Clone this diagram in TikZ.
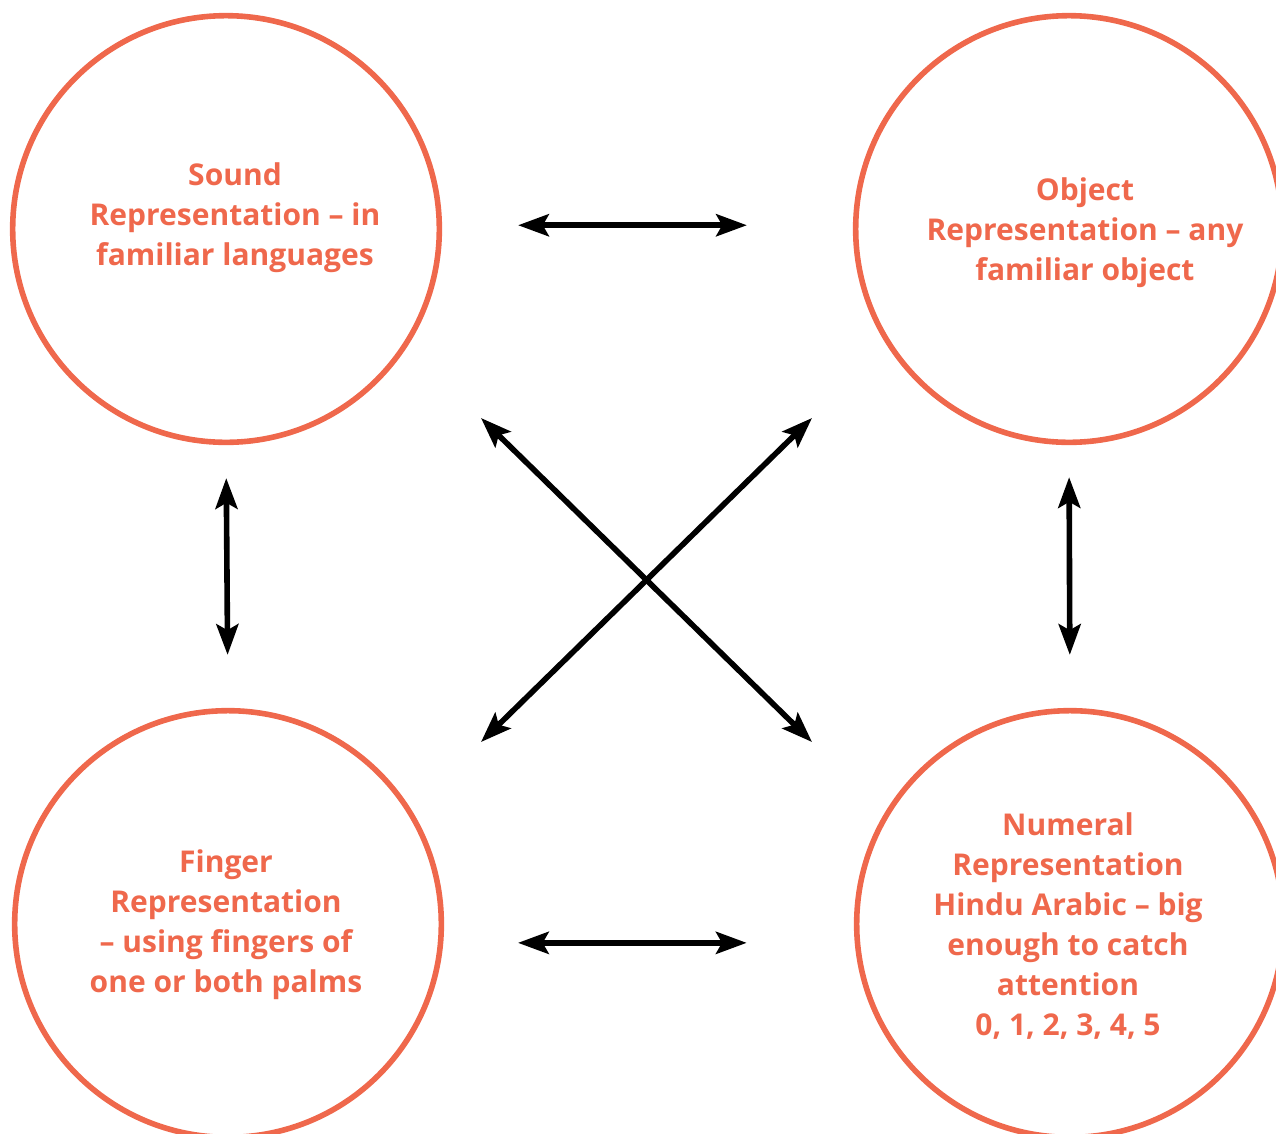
\documentclass[tikz,border=0pt]{standalone}
\usepackage{fontspec}
\setmainfont{Open Sans}
\usetikzlibrary{arrows.meta}
\definecolor{rep}{RGB}{239,104,76}

\begin{document}
\begin{tikzpicture}[x=0.75pt, y=-0.75pt,
    repcircle/.style={circle, draw=rep, line width=4.2pt, minimum size=320pt},
    reptext/.style={text=rep, align=center, font=\fontsize{22.5}{30}\selectfont\bfseries},
    link/.style={{Stealth[length=23pt, width=16.5pt, inset=4.5pt]}-{Stealth[length=23pt, width=16.5pt, inset=4.5pt]},
        line width=4.2pt}]
    \useasboundingbox (0,0) rectangle (1276,1133);
    \node[repcircle] (sound) at (226,229) {};
    \node[repcircle] (object) at (1069,229) {};
    \node[repcircle] (finger) at (228,924) {};
    \node[repcircle] (numeral) at (1070,924) {};
    \node[reptext] (sound-text) at (235,218) {Sound\\Representation -- in\\familiar languages};
    \node[reptext] (object-text) at (1085,233) {Object\\Representation -- any\\familiar object};
    \node[reptext] (finger-text) at (226,925) {Finger\\Representation\\-- using fingers of\\one or both palms};
    \node[reptext] (numeral-text) at (1068,926) {Numeral\\Representation\\Hindu Arabic -- big\\enough to catch\\attention\\0, 1, 2, 3, 4, 5};
    \coordinate (a1) at (481,418);
    \coordinate (a2) at (812,742);
    \coordinate (b1) at (481,742);
    \coordinate (b2) at (812,418);
    \draw[link, shorten <=57pt, shorten >=79.5pt] (sound.1) -- (object.179);
    \draw[link, shorten <=56pt, shorten >=81pt] (finger.-5) -- (numeral.185);
    \draw[link, shorten <=24.75pt, shorten >=39.75pt] (sound.south) -- (finger.north);
    \draw[link, shorten <=24pt, shorten >=39.75pt] (object.south) -- (numeral.north);
    \draw[link] (a1) -- (a2);
    \draw[link] (b1) -- (b2);
\end{tikzpicture}
\end{document}
